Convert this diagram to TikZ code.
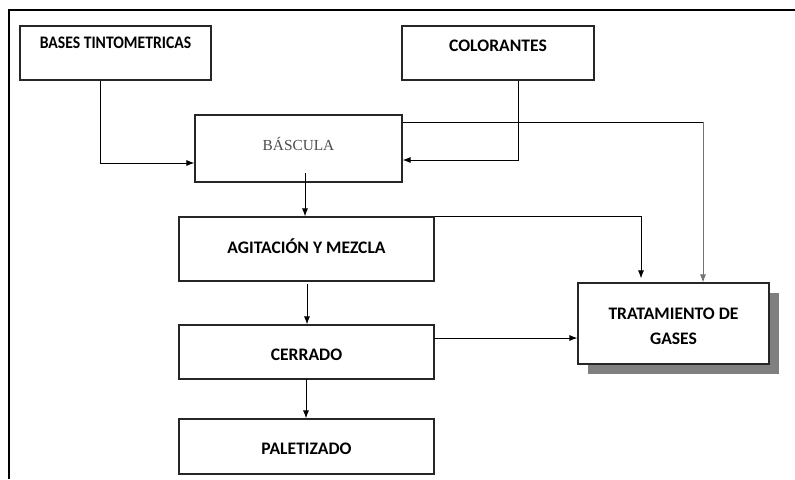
\documentclass[tikz,border=0pt]{standalone}
\usepackage{fontspec}
\setmainfont{Carlito}
\newfontfamily\serifb{Liberation Serif}
\usetikzlibrary{arrows.meta,calc}
\begin{document}
\begin{tikzpicture}[x=0.75pt,y=-0.75pt,
  box/.style={draw=black!85,line width=0.8pt,fill=white,inner sep=0pt},
  txt/.style={anchor=center,inner sep=0pt,font=\bfseries\fontsize{13.2}{16}\selectfont,text height=8.35pt,text depth=0pt,align=center},
  conn/.style={line width=0.75pt,-{Latex[length=6pt,width=4.5pt]}},
  plain/.style={line width=0.75pt}]
\useasboundingbox (0,0) rectangle (795,479);
% frame
\draw[line width=1.5pt] (9,479) -- (9,10) -- (795,10);
% shadow
\fill[black!50] (588,293) rectangle (779,374);
% boxes
\node[box,minimum width=143.25pt,minimum height=40.5pt,
  label={[txt,yshift=7.3pt]center:\scalebox{0.89}[1]{BASES TINTOMETRICAS}}] (bases) at (115.5,53) {};
\node[box,minimum width=144pt,minimum height=40.5pt,
  label={[txt,yshift=5.4pt]center:COLORANTES}] (colo) at (498,53) {};
\node[box,minimum width=155.25pt,minimum height=50.25pt,
  label={[txt,font=\serifb\fontsize{11.5}{13}\selectfont,text height=7.6pt,text=black!70,yshift=2.6pt]center:BÁSCULA}] (basc) at (298.5,148.5) {};
\node[box,minimum width=191.25pt,minimum height=48pt,
  label={[txt,yshift=0.75pt]center:AGITACIÓN Y MEZCLA}] (agit) at (306.5,249) {};
\node[box,minimum width=191.25pt,minimum height=40.5pt,
  label={[txt,yshift=-2.5pt]center:CERRADO}] (cerr) at (306.5,352) {};
\node[box,minimum width=191.25pt,minimum height=41.25pt,
  label={[txt,yshift=-1.9pt]center:PALETIZADO}] (pale) at (306.5,446.5) {};
\node[box,minimum width=143.25pt,minimum height=60.75pt,
  label={[txt,yshift=7.4pt]center:TRATAMIENTO DE},
  label={[txt,yshift=-11.4pt]center:GASES}] (trat) at (673.5,323.5) {};
% connectors
\coordinate (b1) at (100,163);
\draw[conn] (bases.south -| b1) -- (b1) -- (b1 -| basc.west);
\coordinate (c1) at (518,160);
\draw[conn] (colo.south -| c1) -- (c1) -- (c1 -| basc.east);
\coordinate (t1) at (703,122);
\draw[plain] (t1 -| basc.east) -- (t1);
\draw[conn,draw=black!55] (t1) -- (t1 |- trat.north);
\coordinate (t2) at (641,217);
\draw[conn] (agit.north east) -- (agit.north east -| t2) -- ($(t2 |- trat.north)+(0,-4)$);
\coordinate (v1) at (305,173);
\draw[conn] (v1) -- (v1 |- agit.north);
\coordinate (v2) at (307,284);
\draw[conn] (v2) -- (v2 |- cerr.north);
\coordinate (v3) at (306,379);
\draw[conn] (v3) -- (v3 |- pale.north);
\coordinate (h1) at (434,338);
\draw[conn] (h1) -- (h1 -| trat.west);
\end{tikzpicture}
\end{document}
